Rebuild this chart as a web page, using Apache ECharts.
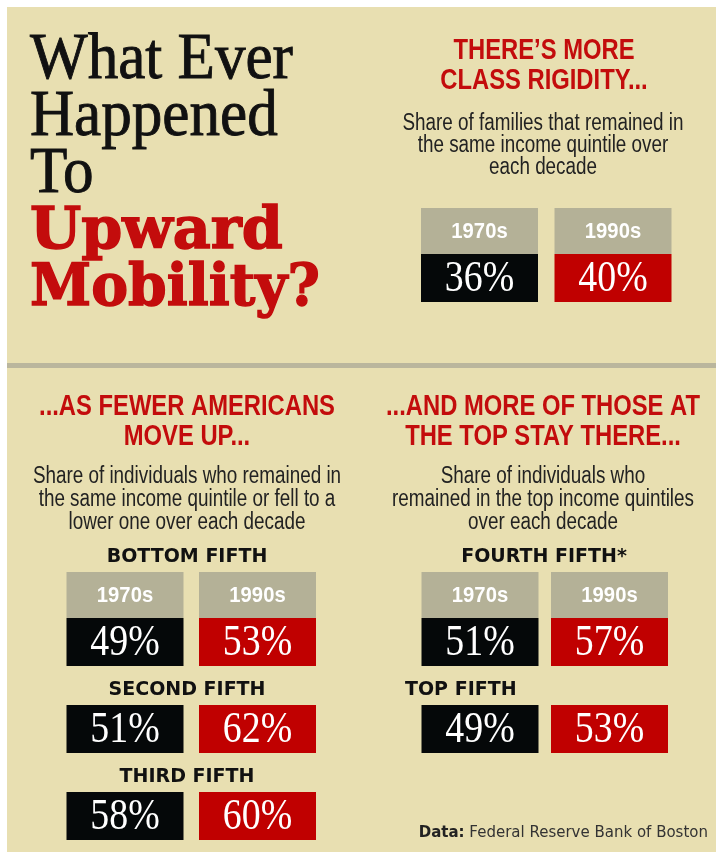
<!DOCTYPE html>
<html>
<head>
<meta charset="utf-8">
<title>What Ever Happened To Upward Mobility?</title>
<script src="https://cdn.jsdelivr.net/npm/echarts@6/dist/echarts.min.js"></script>
<style>
  html, body { margin: 0; padding: 0; background: #fff; }
  #main { width: 716px; height: 861px; }
</style>
</head>
<body>
<div id="main"></div>
<script>
// data (percent of families / individuals)
var decades = ['1970s', '1990s'];
var rigidity = [36, 40];
var bottomFifth = [49, 53];
var secondFifth = [51, 62];
var thirdFifth = [58, 60];
var fourthFifth = [51, 57];
var topFifth = [49, 53];

var BG = '#e8dfb1';
var RED = '#c30c0c';
var GRAY = '#b4b197';
var cellColors = ['#050809', '#c00000'];
var CELL_W = 117;
var HEAD_H = 46;

var chartDom = document.getElementById('main');
var myChart = echarts.init(chartDom);

// one small grid for each row of cells
var blocks = [
    { values: rigidity, left: 412.75, width: 267, top: 254, header: true },
    { values: bottomFifth, left: 58.75, width: 265, top: 618, header: true },
    { values: secondFifth, left: 58.75, width: 265, top: 705 },
    { values: thirdFifth, left: 58.75, width: 265, top: 792 },
    { values: fourthFifth, left: 415.25, width: 259, top: 618, header: true },
    { values: topFifth, left: 415.25, width: 259, top: 705 }
];

function cellRenderer(header) {
    return function (params, api) {
        var i = api.value(0);
        var top = api.coord([i, 100]);
        var bottom = api.coord([i, 0]);
        var cx = top[0];
        var children = [
            {
                type: 'rect',
                shape: { x: cx - CELL_W / 2, y: top[1], width: CELL_W, height: bottom[1] - top[1] },
                style: { fill: cellColors[i] }
            },
            {
                type: 'text',
                x: cx, y: (top[1] + bottom[1]) / 2 + 1,
                scaleX: 0.86,
                style: {
                    text: api.value(1) + '%', fill: '#fff',
                    font: '44px "Liberation Serif"',
                    align: 'center', verticalAlign: 'middle'
                }
            }
        ];
        if (header) {
            children.push({
                type: 'rect',
                shape: { x: cx - CELL_W / 2, y: top[1] - HEAD_H, width: CELL_W, height: HEAD_H },
                style: { fill: GRAY }
            });
            children.push({
                type: 'text',
                x: cx, y: top[1] - HEAD_H / 2 + 1,
                scaleX: 0.92,
                style: {
                    text: decades[i], fill: '#fff',
                    font: 'bold 22px "Liberation Sans"',
                    align: 'center', verticalAlign: 'middle'
                }
            });
        }
        return { type: 'group', children: children };
    };
}

function txt(text, x, y, font, fill, align, sx, lh, stroke) {
    var st = {
        text: text, font: font, fill: fill, align: align || 'center',
        verticalAlign: 'middle', lineHeight: lh
    };
    if (stroke) {
        st.stroke = fill;
        st.lineWidth = stroke;
    }
    return { type: 'text', x: x, y: y, scaleX: sx || 1, silent: true, style: st };
}

var grids = [], xAxes = [], yAxes = [], series = [];
blocks.forEach(function (b, k) {
    grids.push({ left: b.left, top: b.top, width: b.width, height: 48 });
    xAxes.push({ type: 'category', gridIndex: k, data: decades, show: false });
    yAxes.push({ type: 'value', gridIndex: k, min: 0, max: 100, show: false });
    series.push({
        type: 'custom',
        xAxisIndex: k,
        yAxisIndex: k,
        encode: { x: 0, y: 1 },
        data: b.values.map(function (v, i) { return [i, v]; }),
        renderItem: cellRenderer(b.header),
        silent: true
    });
});

var TITLE_FONT = '65px "Liberation Serif"';
var BIG_RED_FONT = 'bold 57px "DejaVu Serif"';
var HEAD_FONT = 'bold 29px "Liberation Sans"';
var BODY_FONT = '23px "Liberation Sans"';
var SUB_FONT = 'bold 19px "DejaVu Sans"';

var option = {
    backgroundColor: '#fff',
    animation: false,
    grid: grids,
    xAxis: xAxes,
    yAxis: yAxes,
    series: series,
    graphic: [
        { type: 'rect', shape: { x: 7, y: 7, width: 709, height: 845 }, style: { fill: BG }, silent: true },
        { type: 'rect', shape: { x: 7, y: 363, width: 709, height: 5 }, style: { fill: '#bab69d' }, silent: true },

        // big title
        txt('What Ever', 30, 61, TITLE_FONT, '#111', 'left', 0.94, null, 0.9),
        txt('Happened', 30, 117.5, TITLE_FONT, '#111', 'left', 0.94, null, 0.9),
        txt('To', 30, 174.5, TITLE_FONT, '#111', 'left', 0.94, null, 0.9),
        txt('Upward', 30, 233, BIG_RED_FONT, RED, 'left', 1.03, null, 1.4),
        txt('Mobility?', 30, 290.5, BIG_RED_FONT, RED, 'left', 0.97, null, 1.4),

        // top right block
        txt('THERE\u2019S MORE\nCLASS RIGIDITY...', 544, 66, HEAD_FONT, RED, 'center', 0.82, 29.5),
        txt('Share of families that remained in\nthe same income quintile over\neach decade', 543, 146, BODY_FONT, '#222', 'center', 0.82, 22),

        // lower left block
        txt('...AS FEWER AMERICANS\nMOVE UP...', 187, 422, HEAD_FONT, RED, 'center', 0.82, 30),
        txt('Share of individuals who remained in\nthe same income quintile or fell to a\nlower one over each decade', 187, 500, BODY_FONT, '#222', 'center', 0.82, 23),
        txt('BOTTOM FIFTH', 187, 557, SUB_FONT, '#111'),
        txt('SECOND FIFTH', 187, 690.5, SUB_FONT, '#111'),
        txt('THIRD FIFTH', 187, 777, SUB_FONT, '#111'),

        // lower right block
        txt('...AND MORE OF THOSE AT\nTHE TOP STAY THERE...', 543, 422, HEAD_FONT, RED, 'center', 0.82, 30),
        txt('Share of individuals who\nremained in the top income quintiles\nover each decade', 543, 500, BODY_FONT, '#222', 'center', 0.82, 23),
        txt('FOURTH FIFTH*', 544, 557, SUB_FONT, '#111'),
        txt('TOP FIFTH', 405, 690.5, SUB_FONT, '#111', 'left'),

        {
            type: 'text', x: 708, y: 833, silent: true,
            style: {
                text: '{b|Data:} Federal Reserve Bank of Boston',
                font: '15px "DejaVu Sans"', fill: '#333',
                align: 'right', verticalAlign: 'middle',
                rich: { b: { fontWeight: 'bold', fontSize: 15, fontFamily: 'DejaVu Sans', fill: '#222' } }
            }
        }
    ]
};

option && myChart.setOption(option);
</script>
</body>
</html>
